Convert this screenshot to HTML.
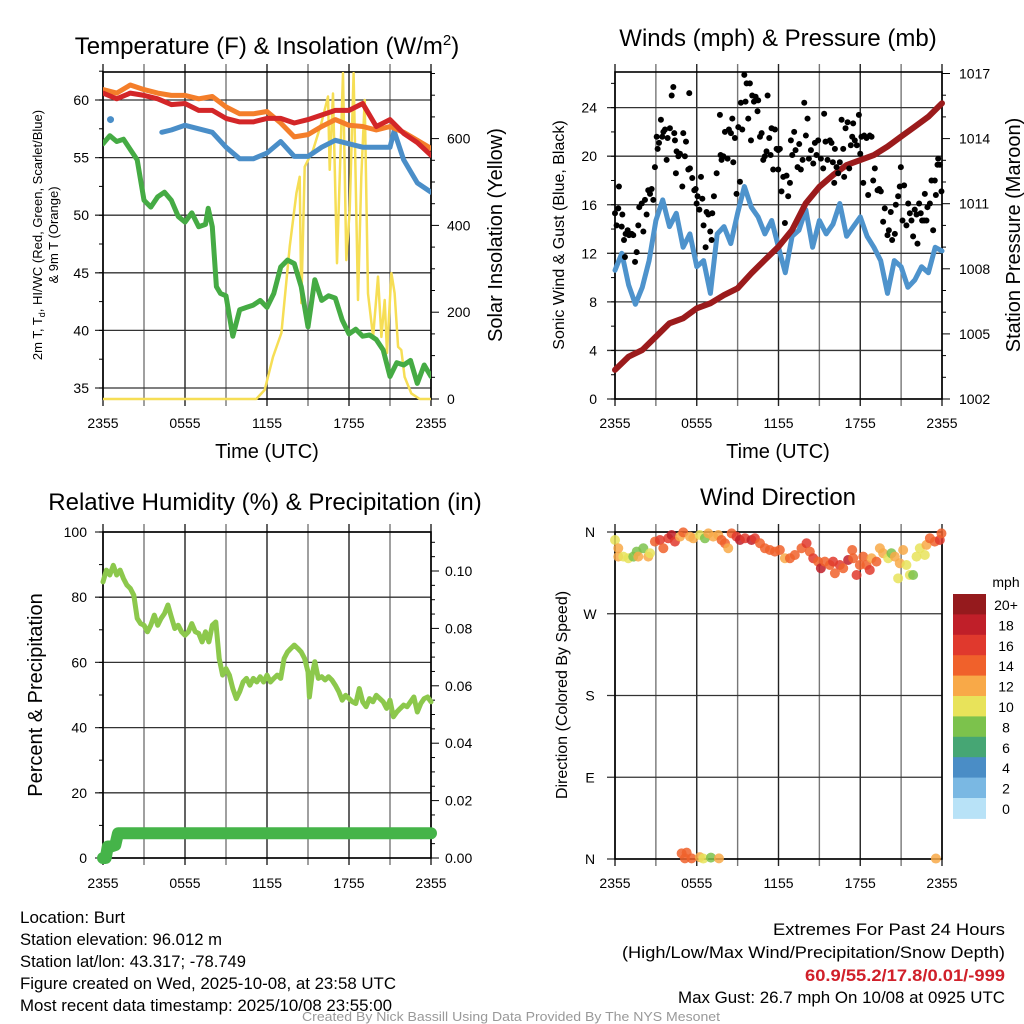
<!DOCTYPE html>
<html><head><meta charset="utf-8"><style>
html,body{margin:0;padding:0;background:#fff;}
svg{display:block;font-family:"Liberation Sans",Arial,sans-serif;}
</style></head><body>
<svg id="fig" width="1024" height="1024" viewBox="0 0 1024 1024" xmlns="http://www.w3.org/2000/svg">
<rect width="1024" height="1024" fill="#fff"/>
<g id="p1"></g>
<g id="p2"></g>
<g id="p3"></g>
<g id="p4"></g>

<text x="267" y="54" font-size="24" text-anchor="middle">Temperature (F) &amp; Insolation (W/m<tspan dy="-9" font-size="15">2</tspan><tspan dy="9">)</tspan></text>
<text x="778" y="46" font-size="24" text-anchor="middle">Winds (mph) &amp; Pressure (mb)</text>
<text x="265" y="510" font-size="24" text-anchor="middle">Relative Humidity (%) &amp; Precipitation (in)</text>
<text x="778" y="505" font-size="24" text-anchor="middle">Wind Direction</text>

<text x="267" y="458" font-size="20" text-anchor="middle">Time (UTC)</text>
<text x="778" y="458" font-size="20" text-anchor="middle">Time (UTC)</text>

<text transform="translate(42,235) rotate(-90)" font-size="13" text-anchor="middle">2m T, T<tspan dy="3" font-size="9">d</tspan><tspan dy="-3">, HI/WC (Red, Green, Scarlet/Blue)</tspan></text>
<text transform="translate(58,235) rotate(-90)" font-size="13" text-anchor="middle">&amp; 9m T (Orange)</text>
<text transform="translate(502,235) rotate(-90)" font-size="20" text-anchor="middle">Solar Insolation (Yellow)</text>
<text transform="translate(564,235) rotate(-90)" font-size="16" text-anchor="middle">Sonic Wind &amp; Gust (Blue, Black)</text>
<text transform="translate(1020,235) rotate(-90)" font-size="20" text-anchor="middle">Station Pressure (Maroon)</text>
<text transform="translate(42,695) rotate(-90)" font-size="20" text-anchor="middle">Percent &amp; Precipitation</text>
<text transform="translate(567,695) rotate(-90)" font-size="16" text-anchor="middle">Direction (Colored By Speed)</text>

<g font-size="17">
<text x="20" y="923" textLength="105" lengthAdjust="spacingAndGlyphs">Location: Burt</text>
<text x="20" y="945" textLength="202" lengthAdjust="spacingAndGlyphs">Station elevation: 96.012 m</text>
<text x="20" y="967" textLength="226" lengthAdjust="spacingAndGlyphs">Station lat/lon: 43.317; -78.749</text>
<text x="20" y="989" textLength="376" lengthAdjust="spacingAndGlyphs">Figure created on Wed, 2025-10-08, at 23:58 UTC</text>
<text x="20" y="1011" textLength="372" lengthAdjust="spacingAndGlyphs">Most recent data timestamp: 2025/10/08 23:55:00</text>
</g>
<g font-size="17">
<text x="773" y="935" textLength="232" lengthAdjust="spacingAndGlyphs">Extremes For Past 24 Hours</text>
<text x="622" y="958" textLength="383" lengthAdjust="spacingAndGlyphs">(High/Low/Max Wind/Precipitation/Snow Depth)</text>
<text x="805" y="981" textLength="200" lengthAdjust="spacingAndGlyphs" fill="#d0202a" font-weight="bold">60.9/55.2/17.8/0.01/-999</text>
<text x="678" y="1003" textLength="327" lengthAdjust="spacingAndGlyphs">Max Gust: 26.7 mph On 10/08 at 0925 UTC</text>
</g>
<text x="302" y="1021" font-size="13" textLength="418" lengthAdjust="spacingAndGlyphs" fill="#999">Created By Nick Bassill Using Data Provided By The NYS Mesonet</text>
</svg>
<script>
// ---------- data ----------
const timeTickLabels = ["2355","0555","1155","1755","2355"];
const tempTickValues = [35,40,45,50,55,60];
const solarTickValues = [0,200,400,600];
const windTickValues = [0,4,8,12,16,20,24];
const pressTickValues = [1002,1005,1008,1011,1014,1017];
const rhTickValues = [0,20,40,60,80,100];
const precipTickValues = [0,0.02,0.04,0.06,0.08,0.10];
const dirTickLabels = ["N","E","S","W","N"];
const dirTickValues = [0,90,180,270,360];

const hourly = [0,1,2,3,4,5,6,7,8,9,10,11,12,13,14,15,16,17,18,19,20,21,22,23,24];
const tempRed = [60.6,60.1,60.6,60.4,60.1,59.6,59.7,59.1,59.1,58.4,58.1,58.1,58.4,58.4,58.0,58.3,58.7,59.1,59.1,59.7,57.7,58.3,57.1,56.3,55.2];
const tempOrange = [60.9,60.6,61.3,60.9,60.6,60.4,60.4,60.1,60.3,59.4,58.8,58.8,59.0,58.0,56.8,57.0,57.7,58.3,57.8,57.7,57.4,57.7,57.2,56.5,55.8];
const hiwcHours = [4.3,5,6,7,8,9,10,11,12,13,14,15,16,17,18,19,20,21,21.3,22,23,24];
const hiwcValues = [57.2,57.4,57.8,57.5,57.2,55.9,54.9,54.9,55.4,56.4,55.1,55.1,55.9,56.5,56.2,55.9,55.9,55.9,57.3,54.8,52.8,52.0];
const hiwcLoneHour = [0.55];
const hiwcLoneValue = [58.3];
const dewHours = [0,0.5,1,1.5,2,2.5,3,3.5,4,4.5,5,5.5,6,6.5,7,7.5,7.7,8,8.3,8.6,9,9.5,10,10.5,11,11.5,12,12.5,13,13.5,14,14.5,15,15.5,16,16.5,17,17.5,18,18.5,19,19.5,20,20.5,21,21.5,22,22.5,23,23.5,24];
const dewValues = [56.2,56.9,56.4,56.6,55.7,54.8,51.3,50.7,51.6,52.0,51.3,49.9,49.4,50.2,49.0,49.2,50.6,49.0,43.8,43.2,43.0,39.5,41.8,42.0,42.2,42.6,42.0,43.2,45.5,46.1,45.8,43.8,40.3,44.4,42.6,43.0,42.8,40.9,39.7,40.1,39.5,39.6,39.2,38.3,36.0,37.2,37.0,37.4,35.4,37.0,36.0];
const solarHours = [0,11.22,11.83,12.44,13.05,13.66,14.15,14.39,14.51,14.76,15.37,15.98,16.46,16.59,16.83,17.12,17.56,17.8,18.05,18.34,18.66,18.9,19.15,19.39,19.76,20.12,20.37,20.61,20.78,21.1,21.34,21.59,21.83,22.07,22.56,23.17,23.9,24];
const solarValues = [0,0,21,97,152,351,474,512,221,535,574,636,697,528,704,313,751,320,435,751,228,512,689,243,143,282,143,228,106,290,244,120,113,51,13,0,0,0];

const windHours = [0,0.5,1,1.5,2,2.5,3,3.5,4,4.5,5,5.5,6,6.5,7,7.5,8,8.5,9,9.5,10,10.5,11,11.5,12,12.5,13,13.5,14,14.5,15,15.5,16,16.5,17,17.5,18,18.5,19,19.5,20,20.5,21,21.5,22,22.5,23,23.5,24];
const windValues = [10.6,12.0,9.4,7.8,9.2,11.4,14.7,16.4,14.2,15.3,12.5,13.6,10.9,11.4,8.7,13.6,14.2,12.8,15.3,17.5,15.8,15.0,13.6,14.7,12.5,10.4,13.4,13.9,15.6,12.5,14.7,13.6,14.4,16.1,13.4,14.2,15.0,13.4,12.5,11.4,8.7,11.4,10.9,9.2,9.8,10.9,10.4,12.5,12.2];
const pressValues = [1003.34,1003.95,1004.26,1004.87,1005.49,1005.72,1006.18,1006.41,1006.79,1007.10,1007.79,1008.41,1009.02,1009.79,1011.02,1011.78,1012.32,1012.78,1013.01,1013.24,1013.63,1014.09,1014.55,1015.01,1015.63];
const gustHours = [0.0,0.12,0.29,0.24,0.54,0.49,0.66,0.78,0.93,1.03,1.22,1.34,0.73,1.47,1.59,1.71,1.78,1.96,2.08,2.20,2.32,2.44,2.57,2.69,2.81,2.93,3.06,3.13,3.23,3.37,3.47,3.55,3.67,3.79,3.86,4.03,4.16,4.28,4.35,4.40,4.52,4.47,4.65,4.77,4.94,5.01,5.13,5.21,5.38,5.50,5.45,5.67,5.82,5.92,5.99,6.06,6.19,6.31,6.41,6.50,6.65,6.72,6.85,6.99,7.14,7.09,7.26,7.46,7.70,7.82,7.75,7.95,8.07,8.26,8.36,8.51,8.61,8.68,8.80,8.92,9.05,9.17,9.24,9.34,9.49,9.58,9.66,9.78,9.90,9.98,10.07,10.20,10.32,10.46,10.51,10.64,10.76,10.88,11.00,11.12,11.20,11.32,11.42,11.49,11.61,11.74,11.86,11.98,12.10,11.98,12.22,12.35,12.47,12.59,12.71,12.84,12.91,13.01,13.15,13.25,13.40,13.52,13.64,13.77,13.89,14.01,14.13,14.23,14.38,14.55,14.67,14.79,14.91,15.11,15.28,15.35,15.45,15.60,15.77,15.89,15.99,16.09,16.14,16.26,16.38,16.50,16.63,16.75,16.82,16.92,17.07,17.19,17.31,17.41,17.48,17.60,17.75,17.90,18.00,18.09,18.22,18.29,18.46,18.58,18.70,18.83,18.95,19.07,19.27,19.39,19.51,19.68,19.80,20.00,20.10,20.24,20.34,20.54,20.61,20.78,20.90,20.98,21.10,21.22,21.39,21.52,21.64,21.76,21.88,22.00,22.13,22.20,22.32,22.44,22.54,22.69,22.74,22.86,22.93,23.11,23.23,23.35,23.47,23.55,23.67,23.72,23.84,23.96];
const gustValues = [15.3,14.3,17.5,15.7,15.2,14.2,13.1,13.6,13.9,13.5,13.6,13.5,11.7,11.3,12.1,14.3,15.8,16.1,13.8,16.4,15.2,17.2,16.9,17.3,16.4,19.1,21.6,20.6,21.1,23.0,21.6,22.0,22.2,19.7,21.5,22.3,25.0,25.7,21.9,21.3,20.4,18.6,20.0,20.2,17.5,21.9,20.0,21.2,18.9,19.0,25.2,18.2,17.2,17.3,16.1,16.7,15.6,18.3,16.5,14.3,12.5,15.4,15.2,13.8,15.3,13.1,16.7,18.6,23.4,19.7,20.1,20.0,22.0,19.8,22.2,21.9,23.1,19.5,21.5,16.9,22.4,17.9,24.4,22.2,26.7,24.5,26.0,23.1,26.0,21.3,25.0,24.5,24.9,23.7,24.6,21.6,21.9,19.7,20.0,20.4,25.0,21.5,20.1,22.3,18.9,22.2,20.6,20.5,20.6,18.9,17.1,18.3,14.5,18.4,16.7,17.8,21.3,20.1,22.0,20.5,19.1,21.0,18.9,19.7,24.4,21.7,23.1,19.8,20.5,19.4,21.1,20.1,21.3,19.8,19.0,23.5,21.2,19.7,21.3,21.1,19.5,17.8,20.6,19.1,18.6,19.5,23.0,20.6,18.3,22.3,22.8,19.0,20.9,21.6,22.7,21.3,20.9,23.4,20.2,21.6,17.8,21.7,21.5,16.8,21.7,21.6,18.0,19.0,17.2,17.3,17.1,14.6,15.7,13.5,13.9,15.4,13.1,13.6,16.0,16.7,17.5,19.1,14.7,17.6,14.3,16.1,15.3,14.7,13.4,15.6,15.2,12.8,16.1,15.3,14.7,14.7,16.9,14.7,15.8,16.1,18.0,13.9,18.0,16.8,19.3,19.8,19.3,17.1];

const rhHours = [0,0.25,0.5,0.75,1,1.25,1.5,1.75,2,2.25,2.5,2.75,3,3.25,3.5,3.75,4,4.25,4.5,4.75,5,5.25,5.5,5.75,6,6.25,6.5,6.75,7,7.25,7.5,7.75,8,8.25,8.5,8.75,9,9.25,9.5,9.75,10,10.25,10.5,10.75,11,11.25,11.5,11.75,12,12.25,12.5,12.75,13,13.25,13.5,13.75,14,14.25,14.5,14.75,15,15.1,15.3,15.5,15.75,16,16.25,16.5,16.75,17,17.25,17.5,17.75,18,18.25,18.5,18.75,19,19.25,19.5,19.75,20,20.25,20.5,20.75,21,21.25,21.5,21.75,22,22.25,22.5,22.75,23,23.25,23.5,23.75,24];
const rhValues = [84.7,88.3,86.8,89.8,86.8,88.3,85.7,83.7,82.7,80.6,73.5,71.9,71.4,69.4,71.4,74.5,71.4,73.5,75.0,77.6,74.0,70.4,71.4,69.4,68.3,69.4,71.9,69.4,68.9,66.3,69.4,66.3,71.4,72.4,61.2,56.1,58.1,56.1,52.0,48.9,51.0,54.0,55.1,53.0,55.1,54.0,55.6,54.0,56.1,54.0,55.1,56.1,55.1,61.2,63.2,64.3,65.3,64.3,63.2,61.2,57.1,49.4,56.1,60.2,55.1,55.6,54.6,55.6,54.6,53.0,51.0,48.4,49.9,48.9,47.9,47.4,52.0,47.9,46.4,48.9,47.9,49.9,48.9,47.9,45.9,48.4,43.3,44.8,45.9,46.9,46.4,47.9,49.4,44.8,47.4,48.9,49.4,47.9];
const precipHours = [0,0.2,0.35,0.6,0.9,1.1,1.3,24];
const precipValues = [0,0,0.004,0.004,0.0045,0.0086,0.0086,0.0086];

const dirHours = [0,0.24,0.24,0.61,0.98,1.34,1.59,1.71,2.08,2.44,2.57,2.93,3.30,3.55,3.91,4.16,4.40,4.77,5.01,5.50,5.75,6.23,6.60,6.85,7.21,7.58,7.82,8.07,8.31,8.56,8.92,9.17,9.54,10.02,10.27,10.64,11.00,11.37,11.74,12.10,12.47,12.84,13.20,13.69,14.06,14.30,14.55,14.91,15.11,15.40,15.77,16.01,16.14,16.50,16.75,17.11,17.48,17.41,17.73,17.97,18.22,18.46,18.70,18.83,19.19,19.44,19.68,20.05,20.29,20.54,20.78,20.90,21.15,21.39,21.64,21.88,22.13,22.37,22.74,22.86,23.11,23.47,23.84,23.96,4.89,5.26,5.13,5.62,6.23,6.48,7.04,7.63,23.55];
const dirValues = [351.2,342.1,332.9,332.9,331.1,332.9,338.4,332.9,342.1,332.9,336.6,349.4,351.2,342.1,353.1,356.7,349.4,354.9,359.6,354.9,353.1,356.7,353.1,358.5,354.9,356.7,351.2,347.6,342.1,358.5,354.9,351.2,353.1,351.2,353.1,347.6,342.1,340.2,338.4,340.2,331.1,331.1,334.7,342.1,347.6,338.4,331.1,327.4,320.1,327.4,323.7,327.4,314.6,323.7,320.1,329.2,331.1,340.2,312.7,323.7,332.9,323.7,318.2,331.1,327.4,342.1,336.6,331.1,336.6,332.9,309.0,325.6,340.2,323.7,312.7,312.7,332.9,342.1,334.7,345.8,353.1,349.4,351.2,358.5,6.2,7.0,0.7,0.7,2.0,0.5,1.5,0.7,0.5];
const dirSpeeds = [10,12,12,10,10,8,8,12,8,12,10,14,16,14,16,18,16,12,14,12,12,10,8,12,12,12,14,14,12,14,16,18,16,18,16,14,14,14,14,14,12,14,14,14,16,14,16,14,18,14,14,16,14,16,14,18,14,14,16,14,14,14,16,12,14,12,12,10,8,12,10,12,12,10,10,8,10,10,10,12,14,14,16,14,14,14,14,14,12,10,8,12,12];
const speedClasses = [0,2,4,6,8,10,12,14,16,18,20];
const speedLabels = ["0","2","4","6","8","10","12","14","16","18","20+"];
const speedColors = ["#b8e2f7","#7ab8e3","#4a8dc6","#46a674","#7cc24c","#e8e35a","#f8a948","#f0612b","#e0392d","#c01f29","#951a1d"];

// ---------- helpers ----------
const NS = "http://www.w3.org/2000/svg";
function mk(tag, attrs, parent){
  const e = document.createElementNS(NS, tag);
  for (const k in attrs) e.setAttribute(k, attrs[k]);
  parent.appendChild(e);
  return e;
}
function txt(str, attrs, parent){
  const e = mk("text", attrs, parent);
  e.textContent = str;
  return e;
}
function pathFrom(xs, ys){
  let d = "";
  for (let i=0;i<xs.length;i++) d += (i?"L":"M") + xs[i].toFixed(1) + "," + ys[i].toFixed(1);
  return d;
}

function frame(g, L, R, T, B, hLines, vCount, name){
  for (let k=0;k<=vCount;k++){
    const x = L + (R-L)*k/vCount;
    const ln = mk("line",{x1:x,y1:T-8,x2:x,y2:B+7,stroke:(k%2? "#777":"#222"),"stroke-width":1.4},g);
    
    
  }
  for (const y of hLines){
    const ln = mk("line",{x1:L-8,y1:y,x2:R,y2:y,stroke:"#333","stroke-width":1.3},g);
    
    
  }
  const box = mk("rect",{x:L,y:T,width:R-L,height:B-T,fill:"none",stroke:"#000","stroke-width":1.6},g);
  
  
}
function xLabels(g, L, R, y){
  timeTickLabels.forEach((s,i)=>{
    const t = txt(s,{x:L+(R-L)*i/4,y:y,"font-size":14,"text-anchor":"middle"},g);
    
    
  });
}

// ===== Panel 1 =====
(function(){
  const g = document.getElementById("p1");
  const L=103,R=431,T=72,B=399;
  const X = t => L + t*(R-L)/24;
  const YT = v => 100 + (60-v)*11.52;
  const YS = w => 399 - w*0.434;
  frame(g,L,R,T,B,tempTickValues.map(YT),8,"temperature");
  for (let v=35; v<=62.5; v+=2.5){ const m = mk("line",{x1:L-4,y1:YT(v),x2:L,y2:YT(v),stroke:"#000"},g);   }
  for (let w=0; w<=750; w+=50){ const m = mk("line",{x1:R,y1:YS(w),x2:R+(w%200===0?8:4),y2:YS(w),stroke:"#000"},g);   }
  tempTickValues.forEach(v=>{ const t = txt(String(v),{x:L-14,y:YT(v)+5,"font-size":14,"text-anchor":"end"},g);   });
  solarTickValues.forEach(v=>{ const t = txt(String(v),{x:R+16,y:YS(v)+5,"font-size":14},g);   });
  xLabels(g,L,R,428);
  const clip = mk("clipPath",{id:"c1"},g); mk("rect",{x:L,y:T,width:R-L,height:B-T+3},clip);
  const cg = mk("g",{"clip-path":"url(#c1)"},g);
  const sol = mk("path",{d:pathFrom(solarHours.map(X),solarValues.map(YS)),fill:"none",stroke:"#f6de55","stroke-width":2.5,"stroke-linejoin":"round"},cg);
  
  
  const dew = mk("path",{d:pathFrom(dewHours.map(X),dewValues.map(YT)),fill:"none",stroke:"#45ab44","stroke-width":5,"stroke-linejoin":"round","stroke-linecap":"round"},cg);
  
  
  const hw = mk("path",{d:pathFrom(hiwcHours.map(X),hiwcValues.map(YT)),fill:"none",stroke:"#4a8ec8","stroke-width":5,"stroke-linejoin":"round","stroke-linecap":"round"},cg);
  
  
  hiwcLoneHour.forEach((h,i)=>{ const c = mk("circle",{cx:X(h),cy:YT(hiwcLoneValue[i]),r:3.5,fill:"#4a8ec8"},cg);   });
  const or = mk("path",{d:pathFrom(hourly.map(X),tempOrange.map(YT)),fill:"none",stroke:"#f47e2a","stroke-width":5,"stroke-linejoin":"round","stroke-linecap":"round"},cg);
  
  
  const rd = mk("path",{d:pathFrom(hourly.map(X),tempRed.map(YT)),fill:"none",stroke:"#d32628","stroke-width":5,"stroke-linejoin":"round","stroke-linecap":"round"},cg);
  
  
})();

// ===== Panel 2 =====
(function(){
  const g = document.getElementById("p2");
  const L=615,R=942,T=72,B=399;
  const X = t => L + t*(R-L)/24;
  const YW = v => 399 - v*12.14;
  const YP = p => 399 - (p-1002)*21.7;
  frame(g,L,R,T,B,windTickValues.map(YW),8,"wind");
  for (let v=0; v<=26; v+=2){ const m = mk("line",{x1:L-4,y1:YW(v),x2:L,y2:YW(v),stroke:"#000"},g);   }
  for (let p=1002; p<=1017; p+=1){ const m = mk("line",{x1:R,y1:YP(p),x2:R+((p-1002)%3===0?8:4),y2:YP(p),stroke:"#000"},g);   }
  windTickValues.forEach(v=>{ const t = txt(String(v),{x:L-18,y:YW(v)+5,"font-size":14,"text-anchor":"end"},g);   });
  pressTickValues.forEach(v=>{ const t = txt(String(v),{x:R+17,y:YP(v)+5,"font-size":14},g);   });
  xLabels(g,L,R,428);
  const clip = mk("clipPath",{id:"c2"},g); mk("rect",{x:L-4,y:T,width:R-L+8,height:B-T},clip);
  const cg = mk("g",{"clip-path":"url(#c2)"},g);
  const wl = mk("path",{d:pathFrom(windHours.map(X),windValues.map(YW)),fill:"none",stroke:"#4e93cc","stroke-width":5,"stroke-linejoin":"round","stroke-linecap":"round"},cg);
  
  
  const pl = mk("path",{d:pathFrom(hourly.map(X),pressValues.map(YP)),fill:"none",stroke:"#9b1b1c","stroke-width":6,"stroke-linejoin":"round","stroke-linecap":"round"},cg);
  
  
  gustHours.forEach((h,i)=>{
    const c = mk("circle",{cx:X(h),cy:YW(gustValues[i]),r:3,fill:"#000"},cg);
    
    
  });
})();

// ===== Panel 3 =====
(function(){
  const g = document.getElementById("p3");
  const L=103,R=431,T=532,B=858;
  const X = t => L + t*(R-L)/24;
  const YR = r => 858 - r*3.26;
  const YPr = p => 858 - p*2870;
  frame(g,L,R,T,B,rhTickValues.map(YR),8,"humidity");
  for (let v=0; v<=100; v+=10){ const m = mk("line",{x1:L-4,y1:YR(v),x2:L,y2:YR(v),stroke:"#000"},g);   }
  for (let p=0; p<=0.1101; p+=0.005){ const m = mk("line",{x1:R,y1:YPr(p),x2:R+(Math.round(p*1000)%20===0?8:4),y2:YPr(p),stroke:"#000"},g);   }
  rhTickValues.forEach(v=>{ const t = txt(String(v),{x:L-16,y:YR(v)+5,"font-size":14,"text-anchor":"end"},g);   });
  precipTickValues.forEach(v=>{ const t = txt(v.toFixed(2),{x:R+14,y:YPr(v)+5,"font-size":14},g);   });
  xLabels(g,L,R,888);
  const rh = mk("path",{d:pathFrom(rhHours.map(X),rhValues.map(YR)),fill:"none",stroke:"#8cc84c","stroke-width":5,"stroke-linejoin":"round","stroke-linecap":"round"},g);
  
  
  const pr = mk("path",{d:pathFrom(precipHours.map(X),precipValues.map(YPr)),fill:"none",stroke:"#45b449","stroke-width":12,"stroke-linejoin":"round","stroke-linecap":"round"},g);
  
  
})();

// ===== Panel 4 =====
(function(){
  const g = document.getElementById("p4");
  const L=615,R=942,T=532,B=859;
  const X = t => L + t*(R-L)/24;
  const YD = d => 859 - d*0.9083;
  frame(g,L,R,T,B,dirTickValues.map(YD),8,"direction");
  dirTickValues.forEach((v,i)=>{ const t = txt(dirTickLabels[i],{x:L-25,y:YD(v)+5,"font-size":14,"text-anchor":"middle"},g);   });
  xLabels(g,L,R,888);
  function colorFor(s){ let k=0; for (let i=0;i<speedClasses.length;i++) if (s>=speedClasses[i]) k=i; return speedColors[k]; }
  dirHours.forEach((h,i)=>{
    const c = mk("circle",{cx:X(h),cy:YD(dirValues[i]),r:5,fill:colorFor(dirSpeeds[i]),"fill-opacity":0.85},g);
    
    
  });
  const cbTop=594, cbH=20.4;
  const unit = txt("mph",{x:1006,y:587,"font-size":14,"text-anchor":"middle"},g);
  
  
  for (let i=0;i<speedColors.length;i++){
    const idx = speedColors.length-1-i;
    const r = mk("rect",{x:953,y:cbTop+i*cbH,width:33,height:cbH+0.5,fill:speedColors[idx]},g);
    
    
    const t = txt(speedLabels[idx],{x:1006,y:cbTop+i*cbH+16,"font-size":14,"text-anchor":"middle"},g);
    
    
  }
})();
</script>
</body></html>
